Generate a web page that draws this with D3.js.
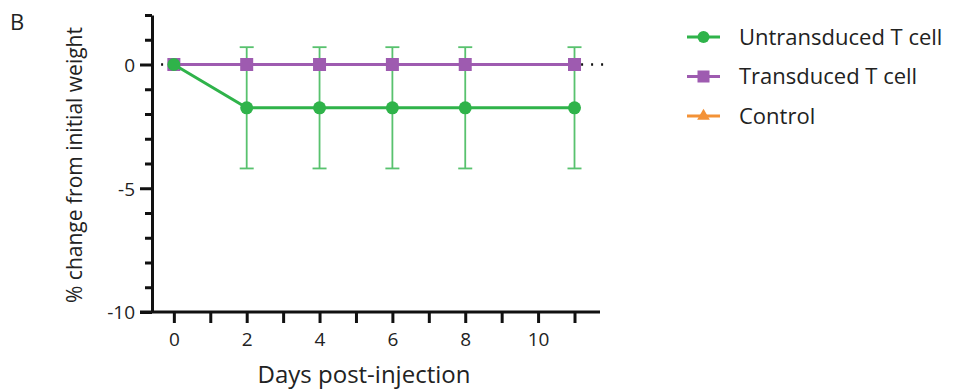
<!DOCTYPE html>
<html>
<head>
<meta charset="utf-8">
<script src="https://cdn.jsdelivr.net/npm/d3@7"></script>
<style>
  body { margin: 0; background: #fff; }
  svg, svg g { display: block; font-family: "Open Sans", "Noto Sans", sans-serif; }
</style>
</head>
<body>
<svg id="chart" width="954" height="389"></svg>
<script>
// data
const days = [0, 2, 4, 6, 8, 11];
const untransduced = [0, -1.75, -1.75, -1.75, -1.75, -1.75];
const untransducedSd = [0, 2.45, 2.45, 2.45, 2.45, 2.45];
const transduced = [0, 0, 0, 0, 0, 0];
const control = [0, 0, 0, 0, 0, 0];
const xTickLabels = [0, 2, 4, 6, 8, 10];
const yTickLabels = [0, -5, -10];
const seriesNames = ['Untransduced T cell', 'Transduced T cell', 'Control'];

const green = '#2fb34a', purple = '#9e5bb0', orange = '#f39237';
const font = '"Open Sans", "Noto Sans", sans-serif';

const svg = d3.select('#chart');

const x = d3.scaleLinear().domain([-0.6, 11.7]).range([152, 600]);
const y = d3.scaleLinear().domain([-10, 2]).range([312, 15]);

// panel letter
svg.append('text').attr('x', 10).attr('y', 30)
    .style('font-size', '22px').attr('fill', '#222').text('B');

// y axis
const yAxis = d3.axisLeft(y)
    .tickValues(d3.range(-10, 3, 1))
    .tickSize(0)
    .tickFormat('');
const gy = svg.append('g').attr('transform', 'translate(' + x.range()[0] + ',0)').call(yAxis)
    .attr('font-family', font);
gy.select('.domain').attr('stroke', '#111').attr('stroke-width', 3);
gy.selectAll('.tick line')
    .attr('x2', d => yTickLabels.includes(d) ? -12 : -7)
    .attr('stroke', '#111').attr('stroke-width', 3);
gy.selectAll('.tick').filter(d => yTickLabels.includes(d))
    .append('text')
    .attr('x', -17).attr('dy', '0.36em')
    .attr('text-anchor', 'end')
    .attr('fill', '#222')
    .style('font-size', '19px')
    .text(d => d);

// x axis
const xAxis = d3.axisBottom(x)
    .tickValues(d3.range(0, 12, 1))
    .tickSize(11)
    .tickFormat(d => xTickLabels.includes(d) ? d : '');
const gx = svg.append('g').attr('transform', 'translate(0,' + y(-10) + ')').call(xAxis)
    .attr('font-family', font);
gx.select('.domain').attr('d', 'M' + (x.range()[0] - 12) + ',0H' + x.range()[1])
    .attr('stroke', '#111').attr('stroke-width', 3);
gx.selectAll('.tick line').attr('stroke', '#111').attr('stroke-width', 3);
gx.selectAll('.tick text')
    .attr('y', 21).attr('fill', '#222')
    .style('font-size', '19px');

// axis titles
svg.append('text')
    .attr('transform', 'translate(82,165) rotate(-90)')
    .attr('text-anchor', 'middle')
    .attr('fill', '#222')
    .style('font-size', '21px')
    .text('% change from initial weight');

svg.append('text')
    .attr('x', 364).attr('y', 383)
    .attr('text-anchor', 'middle')
    .attr('fill', '#222')
    .style('font-size', '24px')
    .text('Days post-injection');

// dotted reference line at 0
svg.append('line')
    .attr('x1', x(-0.35)).attr('x2', x(11.9))
    .attr('y1', y(0)).attr('y2', y(0))
    .attr('stroke', '#111').attr('stroke-width', 2.5)
    .attr('stroke-dasharray', '2,8');

const line = d3.line().x(d => x(d[0])).y(d => y(d[1]));
const zip = vals => days.map((d, i) => [d, vals[i]]);

// control (hidden under the others)
svg.append('path').datum(zip(control))
    .attr('d', line).attr('fill', 'none')
    .attr('stroke', orange).attr('stroke-width', 3);

// green error bars
const eb = svg.append('g').attr('stroke', green).attr('stroke-width', 1.8).attr('opacity', 0.8);
days.forEach((d, i) => {
    if (!untransducedSd[i]) return;
    const top = y(untransduced[i] + untransducedSd[i]),
          bot = y(untransduced[i] - untransducedSd[i]);
    eb.append('line').attr('x1', x(d)).attr('x2', x(d)).attr('y1', top).attr('y2', bot);
    eb.append('line').attr('x1', x(d) - 7).attr('x2', x(d) + 7).attr('y1', top).attr('y2', top);
    eb.append('line').attr('x1', x(d) - 7).attr('x2', x(d) + 7).attr('y1', bot).attr('y2', bot);
});

// transduced
svg.append('path').datum(zip(transduced))
    .attr('d', line).attr('fill', 'none')
    .attr('stroke', purple).attr('stroke-width', 3);
svg.selectAll('.sq').data(zip(transduced)).enter().append('rect')
    .attr('x', d => x(d[0]) - 6.5).attr('y', d => y(d[1]) - 6.5)
    .attr('width', 13).attr('height', 13)
    .attr('fill', purple);

// untransduced
svg.append('path').datum(zip(untransduced))
    .attr('d', line).attr('fill', 'none')
    .attr('stroke', green).attr('stroke-width', 3);
svg.selectAll('.dot').data(zip(untransduced)).enter().append('circle')
    .attr('cx', d => x(d[0])).attr('cy', d => y(d[1]))
    .attr('r', 6.5).attr('fill', green);

// legend
const colors = [green, purple, orange];
const lg = svg.append('g').attr('transform', 'translate(687,37)');
seriesNames.forEach((name, i) => {
    const g = lg.append('g').attr('transform', 'translate(0,' + i * 39.5 + ')');
    g.append('line').attr('x1', 0).attr('x2', 33).attr('stroke', colors[i]).attr('stroke-width', 3);
    if (i === 0) g.append('circle').attr('cx', 16.5).attr('r', 6).attr('fill', colors[i]);
    if (i === 1) g.append('rect').attr('x', 10.5).attr('y', -6).attr('width', 12).attr('height', 12).attr('fill', colors[i]);
    if (i === 2) g.append('path').attr('transform', 'translate(16.5,0)')
        .attr('d', d3.symbol(d3.symbolTriangle, 70)).attr('fill', colors[i]);
    g.append('text').attr('x', 52).attr('dy', '0.35em')
        .attr('fill', '#222').style('font-size', '22px').text(name);
});
</script>
</body>
</html>
